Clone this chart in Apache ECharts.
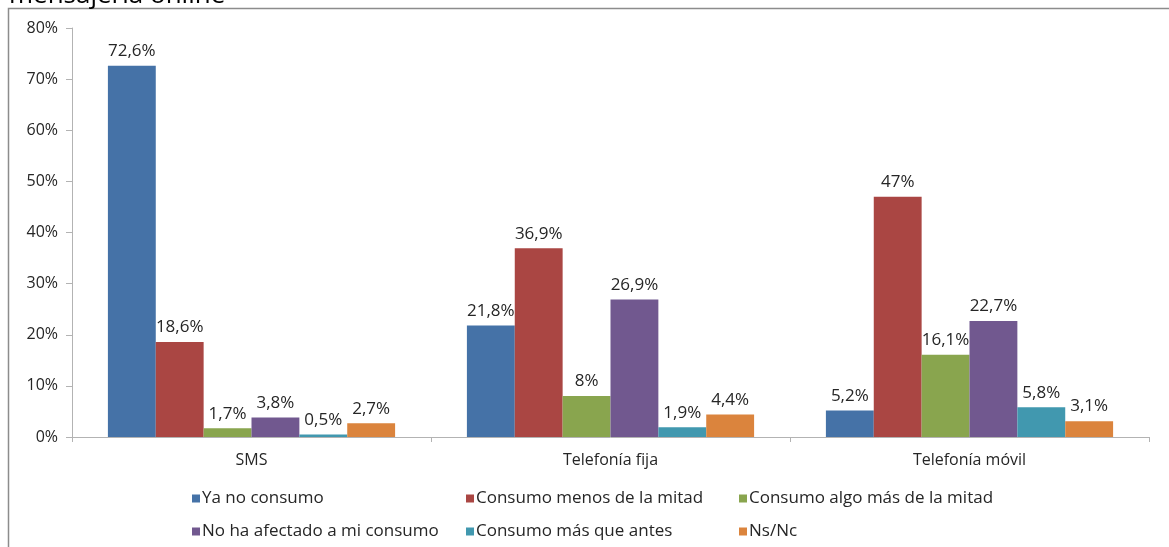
<!DOCTYPE html>
<html>
<head>
<meta charset="utf-8">
<script src="https://cdn.jsdelivr.net/npm/echarts@6/dist/echarts.min.js"></script>
<style>
  html, body { margin: 0; padding: 0; background: #fff; }
  #chart { width: 1169px; height: 547px; }
</style>
</head>
<body>
<div id="chart"></div>
<script>
const categories = ['SMS', 'Telefonía fija', 'Telefonía móvil']
const seriesNames = [
  'Ya no consumo',
  'Consumo menos de la mitad',
  'Consumo algo más de la mitad',
  'No ha afectado a mi consumo',
  'Consumo más que antes',
  'Ns/Nc'
]
const yaNoConsumo = [72.6, 21.8, 5.2]
const menosMitad = [18.6, 36.9, 47]
const algoMasMitad = [1.7, 8, 16.1]
const noHaAfectado = [3.8, 26.9, 22.7]
const masQueAntes = [0.5, 1.9, 5.8]
const nsNc = [2.7, 4.4, 3.1]
const yTicks = [0, 10, 20, 30, 40, 50, 60, 70, 80]

const seriesData = [yaNoConsumo, menosMitad, algoMasMitad, noHaAfectado, masQueAntes, nsNc]
const colors = ['#4572A7', '#AA4643', '#89A54E', '#71588F', '#4198AF', '#DB843D']
const FONT = 'Open Sans'
const TXT = '#262626'

// legend laid out as a 3 x 2 grid, one legend per item
const legendPos = [
  [187, 485], [461, 485], [734, 485],
  [187, 518], [461, 518], [734, 518]
]

const chart = echarts.init(document.getElementById('chart'))

chart.setOption({
  animation: false,
  color: colors,
  textStyle: { fontFamily: FONT },
  title: {
    text: 'mensajería online',
    left: 4,
    top: -22,
    textStyle: { fontSize: 26, fontWeight: 'normal', color: '#000', fontFamily: FONT }
  },
  graphic: [{
    type: 'rect',
    shape: { x: 8.5, y: 8.5, width: 1300, height: 700 },
    style: { fill: 'none', stroke: '#8c8c8c', lineWidth: 1.5 },
    silent: true
  }],
  grid: { left: 72, right: 20, top: 28, bottom: 110 },
  legend: seriesNames.map((name, i) => ({
    data: [name],
    left: legendPos[i][0],
    top: legendPos[i][1],
    icon: 'rect',
    itemWidth: 8,
    itemHeight: 8,
    selectedMode: false,
    textStyle: { fontSize: 17, color: TXT, fontFamily: FONT, padding: [0, 0, 0, -3] }
  })),
  xAxis: {
    type: 'category',
    data: categories,
    axisLine: { lineStyle: { color: '#b3b3b3' } },
    axisTick: { show: true, length: 5, lineStyle: { color: '#b3b3b3' } },
    axisLabel: { fontSize: 16, color: TXT, margin: 15, fontFamily: FONT }
  },
  yAxis: {
    type: 'value',
    min: 0,
    max: yTicks[yTicks.length - 1],
    interval: 10,
    splitLine: { show: false },
    axisLine: { show: true, lineStyle: { color: '#b3b3b3' } },
    axisTick: { show: true, length: 6, lineStyle: { color: '#b3b3b3' } },
    axisLabel: { fontSize: 16, color: TXT, margin: 14, fontFamily: FONT, formatter: '{value}%' }
  },
  series: seriesNames.map((name, i) => ({
    name: name,
    type: 'bar',
    data: seriesData[i],
    barGap: '0%',
    barCategoryGap: '20%',
    label: {
      show: true,
      position: 'top',
      distance: 6,
      fontSize: 17,
      color: TXT,
      fontFamily: FONT,
      formatter: p => String(p.value).replace('.', ',') + '%'
    }
  }))
})
</script>
</body>
</html>
